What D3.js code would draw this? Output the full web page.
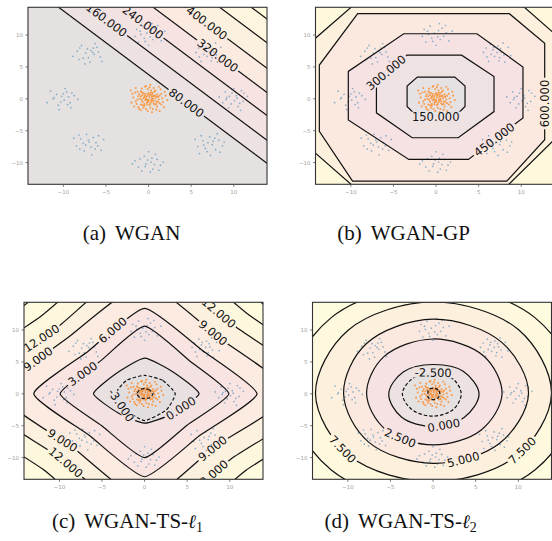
<!DOCTYPE html>
<html>
<head>
<meta charset="utf-8">
<script src="https://d3js.org/d3.v7.min.js"></script>
<style>
  body { margin: 0; background: #fff; }
  svg { display: block; }
  .tick-label { font-family: "DejaVu Sans", sans-serif; font-size: 5.5px; fill: #a0a0a0; }
  .clabel { font-family: "DejaVu Sans", sans-serif; font-size: 11.5px; fill: #111; }
  .caption { font-family: "Liberation Serif", "Times New Roman", serif; font-size: 21px; fill: #111; }
</style>
</head>
<body>
<div id="chart"></div>
<script>
// ---- shared axes ----
var xTicks = [-10, -5, 0, 5, 10];
var yTicks = [-10, -5, 0, 5, 10];
var xDomain = [-14.15, 13.9];
var yDomain = [-13.4, 14.35];

var captionTags = ["(a)", "(b)", "(c)", "(d)"];
var captionNames = ["WGAN", "WGAN-GP", "WGAN-TS-", "WGAN-TS-"];
var captionNorms = ["", "", "1", "2"];

// ---- samples: 8 real modes + generated cloud at the origin ----
var modeCenters = [[10, 0], [7.07, 7.07], [0, 10], [-7.07, 7.07], [-10, 0], [-7.07, -7.07], [0, -10], [7.07, -7.07]];
var modeSpread = [
  [[0.3,0.5],[-0.8,0.2],[1.1,-0.4],[0.5,-1.2],[-0.2,0.9],[-1.3,-0.6],[0.9,1.3],[0.1,-0.3],[-0.6,-1.4],[1.6,0.4],[-1.0,1.1],[0.4,0.1],[-0.3,-0.8],[0.7,-0.7],[-1.7,0.3],[1.2,0.9],[0.0,1.6],[-0.5,0.4],[0.8,-1.8],[-0.9,-0.1]],
  [[-0.4,0.6],[0.9,-0.2],[0.2,1.2],[-1.1,-0.5],[0.6,0.3],[1.4,1.0],[-0.7,1.5],[0.3,-1.1],[-0.2,-0.4],[1.0,-1.3],[-1.5,0.2],[0.5,0.8],[-0.9,-1.2],[0.1,0.2],[1.7,-0.3],[-0.3,1.0],[0.8,1.7],[-1.2,0.9],[0.4,-0.6],[-0.6,-0.1]],
  [[0.2,-0.3],[-1.0,0.6],[1.2,0.4],[-0.4,-1.0],[0.7,1.1],[-1.6,-0.2],[0.3,0.7],[1.5,-0.9],[-0.7,1.4],[0.0,-1.6],[0.9,-0.2],[-1.2,-1.1],[1.9,0.6],[-0.2,0.3],[0.5,-0.7],[-0.9,0.1],[1.1,1.5],[-0.5,-0.5],[0.4,1.8],[-1.4,0.9]],
  [[0.5,0.2],[-0.6,-0.7],[1.0,1.0],[-1.3,0.4],[0.2,-1.3],[-0.1,0.8],[1.4,-0.5],[-0.8,1.3],[0.7,-0.1],[-1.8,-0.4],[0.3,0.5],[-0.4,-1.6],[1.2,0.3],[-1.0,0.9],[0.0,-0.6],[0.8,1.6],[-0.3,0.1],[1.6,-1.2],[-1.1,-0.9],[0.6,0.9]],
  [[-0.2,0.4],[0.8,-0.6],[-1.1,0.2],[0.4,1.1],[-0.6,-1.0],[1.3,0.5],[-1.5,1.2],[0.1,-0.2],[0.9,-1.4],[-0.8,0.7],[1.7,-0.1],[-0.3,-0.5],[0.6,0.3],[-1.9,-0.6],[0.2,1.6],[1.0,0.9],[-0.5,-1.7],[-1.2,0.0],[0.5,-0.9],[0.0,0.8]],
  [[0.1,0.3],[-0.9,0.8],[1.1,-0.3],[-0.5,-1.1],[0.6,1.0],[-1.4,-0.3],[0.9,0.2],[-0.2,1.5],[1.5,-1.0],[-1.0,-0.8],[0.3,-0.5],[-0.6,0.1],[1.8,0.7],[-1.7,0.9],[0.4,-1.7],[-0.3,-0.2],[0.8,-0.8],[1.2,1.3],[-1.1,1.4],[0.0,0.6]],
  [[-0.3,-0.2],[1.0,0.5],[-1.2,-0.7],[0.5,-1.0],[-0.5,1.0],[1.4,-0.4],[-0.1,0.4],[0.8,1.3],[-1.6,0.3],[0.2,-1.5],[-0.8,-1.3],[1.7,0.1],[0.4,0.7],[-1.0,0.6],[1.2,-1.2],[-0.4,-0.6],[0.0,1.7],[-1.9,-0.2],[0.7,-0.3],[0.3,0.1]],
  [[0.4,-0.1],[-0.7,0.5],[1.2,0.6],[-0.2,-1.2],[0.8,-0.9],[-1.3,-0.4],[0.1,1.1],[1.6,-0.3],[-0.9,1.3],[0.5,0.4],[-0.4,-0.7],[1.0,1.6],[-1.6,0.7],[0.2,-1.8],[1.3,-1.3],[-0.1,0.2],[-1.1,-1.5],[0.7,0.9],[1.8,0.3],[-0.6,-0.2]]
];
var fakeSamples = [
  [0.1,0.2],[-0.4,0.5],[0.6,-0.3],[-0.2,-0.6],[0.9,0.4],[-0.8,-0.2],[0.3,1.0],[-0.5,-1.1],[1.2,-0.1],[-1.1,0.7],
  [0.0,-0.2],[0.4,0.6],[-0.3,0.1],[0.7,-0.9],[-0.9,1.2],[1.5,0.8],[-1.4,-0.8],[0.2,-1.4],[-0.1,1.5],[1.0,-1.2],
  [-0.6,0.9],[0.8,1.3],[-1.2,-1.3],[1.7,-0.5],[-1.8,0.2],[0.5,0.0],[-0.7,-0.5],[0.2,0.7],[-0.2,-0.9],[1.1,0.3],
  [-0.4,1.9],[0.9,-1.7],[-1.6,1.0],[1.9,1.1],[-0.9,-1.8],[0.3,-0.5],[-0.5,0.3],[0.6,1.7],[-1.0,0.0],[1.3,-0.7],
  [0.0,0.9],[-0.3,-1.6],[1.6,0.1],[-2.0,-0.6],[0.4,-2.1],[-0.8,1.6],[2.2,-0.2],[-1.3,-0.1],[0.7,0.5],[-0.1,-0.3],
  [0.2,2.2],[1.4,1.5],[-1.5,1.7],[0.9,-0.4],[-0.6,-1.4],[1.2,1.9],[-2.1,1.3],[0.1,-1.0],[-0.2,0.4],[0.5,-1.6],
  [1.8,-1.3],[-1.1,-1.6],[0.3,1.3],[-0.7,0.6],[1.0,0.7],[-0.4,-0.2],[0.6,-0.7],[-1.7,-1.2],[2.0,0.5],[-0.9,0.4],
  [0.1,1.8],[1.3,-1.9],[-0.3,2.0],[-1.9,0.8],[0.8,0.1],[-0.5,-0.8],[1.5,-0.9],[-1.3,1.1],[0.4,0.3],[-0.1,-1.9],
  [0.3,-0.1],[-0.6,0.1],[0.1,0.5],[-0.2,-0.1],[0.5,0.9],[-0.9,-0.9],[1.1,-0.5],[-1.2,0.4],[0.7,1.1],[-0.4,0.8],
  [0.2,-0.8],[-0.7,-1.0],[1.3,0.5],[-1.5,-0.4],[0.6,0.4],[-0.1,0.7],[0.9,-0.8],[-0.8,1.0],[0.0,-0.5],[0.4,-0.3]
];

// ---- (a) WGAN: straight level lines x + y = const ----
var wganLevels = [80, 160, 240, 320, 400, 480, 560];
var wganLineSums = [3.8, 7.4, 11.3, 14.9, 18.7, 22.7, 26.4];
var wganLabelSpots = [[80, 4.5, -0.4], [160, -4.9, 12.3], [240, -0.6, 12.1], [320, 8.2, 6.9], [400, 6.9, 12.1]];

// ---- (b) WGAN-GP: octagonal level sets ----
var gpLevels = [150, 300, 450, 600, 750];
var gpOctagons = [
  [[-2.2,3.4],[2.2,3.4],[3.4,2.0],[3.4,-1.2],[2.2,-2.8],[-2.2,-2.8],[-3.4,-1.2],[-3.4,2.0]],
  [[-3.4,6.85],[3.0,6.85],[6.8,3.5],[6.8,-2.0],[2.6,-6.1],[-2.8,-6.1],[-7.0,-2.2],[-7.0,2.8]],
  [[-3.8,10.2],[4.8,10.2],[10.2,5.0],[10.2,-3.0],[3.8,-9.5],[-3.2,-9.5],[-10.3,-3.3],[-10.3,4.3]],
  [[-9.2,13.35],[8.6,13.35],[12.75,8.7],[12.75,-6.4],[8.3,-12.9],[-9.8,-12.9],[-13.7,-5.1],[-13.7,5.3]],
  [[-7.7,17],[8.1,17],[17,6.6],[17,-2.3],[5.8,-17],[-6.9,-17],[-17,-5.2],[-17,6.2]]
];
var gpLabelSpots = [[150, 0, -2.9], [300, -5.6, 3.7], [450, 6.6, -6.0], [600, 12.9, -0.7]];

// ---- (c) WGAN-TS-l1: radius of each level along E, NE, N, NW, W, SW, S, SE ----
var l1Levels = [-6, -3, 0, 3, 6, 9, 12, 15, 18];
var l1Radii = [
  [1.0, 0.85, 0.85, 0.85, 0.9, 0.8, 0.75, 0.85],
  [3.6, 3.0, 2.9, 3.0, 3.4, 3.4, 4.2, 3.6],
  [6.4, 4.8, 5.6, 4.6, 6.0, 4.3, 4.6, 4.5],
  [9.9, 7.4, 10.6, 7.3, 9.9, 7.1, 10.0, 7.0],
  [13.2, 9.6, 13.4, 9.4, 13.0, 9.2, 13.0, 9.2],
  [17.2, 12.4, 17.4, 12.6, 17.0, 11.9, 16.8, 11.7],
  [21.0, 15.0, 21.0, 14.6, 20.5, 14.1, 20.3, 14.4],
  [24.5, 17.4, 24.5, 17.2, 24.2, 16.8, 24.0, 16.9],
  [28.0, 19.8, 28.0, 19.8, 28.0, 19.5, 28.0, 19.5]
];
var l1LabelSpots = [[-3, -2.2, -1.4], [0, 4.1, -1.9], [3, -7.2, 2.9], [6, -3.5, 9.5], [9, -12.6, 5.6], [9, -9.5, -7.1],
  [9, 7.9, -8.4], [9, 8.5, 10.2], [12, -11.8, 8.2], [12, -9.1, -10.5], [12, 8.7, 12.7], [12, 7.2, -11.8]];

// ---- (d) WGAN-TS-l2 ----
var l2Levels = [-5, -2.5, 0, 2.5, 5, 7.5, 10];
var l2Radii = [
  [0.8, 0.85, 0.9, 0.8, 0.6, 0.8, 0.9, 0.85],
  [3.3, 3.3, 3.3, 3.4, 3.6, 3.5, 3.5, 3.4],
  [5.4, 5.0, 4.6, 4.9, 5.2, 5.2, 5.1, 5.2],
  [8.1, 8.4, 8.6, 8.2, 7.8, 7.9, 8.0, 8.0],
  [11.2, 11.4, 11.7, 11.1, 10.5, 10.7, 10.9, 11.0],
  [13.9, 14.2, 14.4, 14.1, 13.8, 13.8, 13.75, 13.8],
  [17.0, 16.9, 17.0, 16.9, 17.0, 16.9, 17.0, 16.9]
];
var l2LabelSpots = [[-2.5, 0, 4.1], [0, 1.2, -4.6], [2.5, -3.9, -7.2], [5, 3.5, -9.8], [7.5, -10.7, -8.8], [7.5, 10.5, -9.0]];

// ---- layout ----
var W = 239, H = 177;
var boxes = [[28, 7.3], [315.5, 7.3], [24, 302.3], [312.5, 302.3]];
var captionSpots = [[131.5, 240], [403.5, 240], [127.5, 528], [400.7, 528]];

var svg = d3.select("#chart").append("svg").attr("width", 552).attr("height", 541);
var defs = svg.append("defs");

var x = d3.scaleLinear().domain(xDomain).range([0, W]);
var y = d3.scaleLinear().domain(yDomain).range([H, 0]);

var compass = [0, 45, 90, 135, 180, 225, 270, 315];
function ring(radii) {
  return radii.map(function(r, i) {
    var a = compass[i] * Math.PI / 180;
    return [r * Math.cos(a), r * Math.sin(a)];
  });
}

var panels = [
  { levels: wganLevels, up: true, curve: d3.curveLinear, spots: wganLabelSpots,
    rings: wganLineSums.map(function(s) {
      return { fill: [[s - 30, 30], [30, 30], [30, s - 30]], stroke: [[s - 30, 30], [30, s - 30]] };
    }),
    bands: ["#e5e1e0", "#ece2e2", "#f3e2e2", "#f7e3e1", "#faeae0", "#fcf0de", "#fdf5dd", "#fefadd"] },
  { levels: gpLevels, up: false, curve: d3.curveLinearClosed, spots: gpLabelSpots,
    rings: gpOctagons.map(function(p) { return { fill: p, stroke: p }; }),
    bands: ["#e6e2e4", "#eee2e3", "#f6e2e2", "#fbe9e0", "#fdf1dd", "#fef9dd"] },
  { levels: l1Levels, up: false, curve: d3.curveCardinalClosed.tension(0.5), spots: l1LabelSpots,
    rings: l1Radii.map(function(r) { var p = ring(r); return { fill: p, stroke: p }; }),
    bands: ["#d9d4d6", "#e2dedf", "#e9e1e1", "#f4e1e2", "#f9e4e1", "#fbebe0", "#fcf1de", "#fdf7dd", "#fefbdf", "#fffde0"] },
  { levels: l2Levels, up: false, curve: d3.curveCatmullRomClosed, spots: l2LabelSpots,
    rings: l2Radii.map(function(r) { var p = ring(r); return { fill: p, stroke: p }; }),
    bands: ["#dcd7d9", "#e5e1e1", "#ede2e2", "#f6e2e2", "#fbe9e0", "#fdf1dd", "#fef8de", "#fefcdf"] }
];

var fmt = function(v) { return d3.format(".3f")(v).replace("\u2212", "-"); };

function nearestOnPath(node, px, py) {
  var L = node.getTotalLength(), best = null;
  for (var s = 0; s <= L; s += 1) {
    var p = node.getPointAtLength(s);
    var d = (p.x - px) * (p.x - px) + (p.y - py) * (p.y - py);
    if (!best || d < best.d) best = { s: s, d: d, p: p };
  }
  var a = node.getPointAtLength(Math.max(0, best.s - 4));
  var b = node.getPointAtLength(Math.min(L, best.s + 4));
  var ang = Math.atan2(b.y - a.y, b.x - a.x) * 180 / Math.PI;
  // keep text upright; vertical labels read bottom-to-top
  if (ang >= 89) ang -= 180;
  if (ang < -91) ang += 180;
  return { x: best.p.x, y: best.p.y, ang: ang };
}

panels.forEach(function(cfg, i) {
  var g = svg.append("g").attr("transform", "translate(" + boxes[i][0] + "," + boxes[i][1] + ")");
  defs.append("clipPath").attr("id", "clip" + i).append("rect").attr("width", W).attr("height", H);

  var body = g.append("g").attr("clip-path", "url(#clip" + i + ")");
  var line = d3.line().x(function(d) { return x(d[0]); }).y(function(d) { return y(d[1]); });
  var n = cfg.levels.length;

  // filled bands, painted from the outside in
  body.append("rect").attr("width", W).attr("height", H)
    .attr("fill", cfg.up ? cfg.bands[0] : cfg.bands[n]);
  var order = d3.range(n);
  if (!cfg.up) order.reverse();
  order.forEach(function(k) {
    body.append("path")
      .attr("d", line.curve(cfg.curve)(cfg.rings[k].fill))
      .attr("fill", cfg.up ? cfg.bands[k + 1] : cfg.bands[k]);
  });

  // samples
  modeCenters.forEach(function(c, m) {
    body.append("g").selectAll("circle").data(modeSpread[m]).join("circle")
      .attr("cx", function(d) { return x(c[0] + d[0]); })
      .attr("cy", function(d) { return y(c[1] + d[1]); })
      .attr("r", 0.85).attr("fill", "#1f77b4").attr("opacity", 0.5);
  });
  body.append("g").selectAll("circle").data(fakeSamples).join("circle")
    .attr("cx", function(d) { return x(d[0]); })
    .attr("cy", function(d) { return y(d[1]); })
    .attr("r", 1.05).attr("fill", "#ff7f0e").attr("opacity", 0.7);

  // contour lines (masked under labels)
  var maskId = "mask" + i;
  var mask = defs.append("mask").attr("id", maskId).attr("maskUnits", "userSpaceOnUse")
    .attr("x", -50).attr("y", -50).attr("width", W + 100).attr("height", H + 100);
  mask.append("rect").attr("x", -50).attr("y", -50).attr("width", W + 100).attr("height", H + 100).attr("fill", "#fff");

  var lines = body.append("g").attr("mask", "url(#" + maskId + ")");
  var strokeCurve = cfg.up ? d3.curveLinear : cfg.curve;
  var nodes = cfg.rings.map(function(r, k) {
    return lines.append("path")
      .attr("d", line.curve(strokeCurve)(r.stroke))
      .attr("fill", "none").attr("stroke", "#111").attr("stroke-width", 1.2)
      .attr("stroke-dasharray", cfg.levels[k] < 0 ? "3.5,2" : null)
      .node();
  });

  // inline level labels
  var labels = body.append("g");
  cfg.spots.forEach(function(s) {
    var k = cfg.levels.indexOf(s[0]);
    var at = nearestOnPath(nodes[k], x(s[1]), y(s[2]));
    var t = labels.append("text").attr("class", "clabel")
      .attr("text-anchor", "middle").attr("dominant-baseline", "central")
      .attr("transform", "translate(" + at.x + "," + at.y + ") rotate(" + at.ang + ")")
      .text(fmt(s[0]));
    var w = t.node().getComputedTextLength() + 4;
    mask.append("rect").attr("x", -w / 2).attr("y", -5).attr("width", w).attr("height", 10)
      .attr("transform", "translate(" + at.x + "," + at.y + ") rotate(" + at.ang + ")")
      .attr("fill", "#000");
  });

  // frame and ticks
  g.append("rect").attr("width", W).attr("height", H)
    .attr("fill", "none").attr("stroke", "#333").attr("stroke-width", 1.1);
  xTicks.forEach(function(t) {
    g.append("line").attr("x1", x(t)).attr("x2", x(t)).attr("y1", H).attr("y2", H + 2.5)
      .attr("stroke", "#555").attr("stroke-width", 0.8);
    g.append("text").attr("class", "tick-label").attr("x", x(t)).attr("y", H + 10)
      .attr("text-anchor", "middle").text(d3.format("")(t));
  });
  yTicks.forEach(function(t) {
    g.append("line").attr("x1", 0).attr("x2", -2.5).attr("y1", y(t)).attr("y2", y(t))
      .attr("stroke", "#555").attr("stroke-width", 0.8);
    g.append("text").attr("class", "tick-label").attr("x", -5).attr("y", y(t) + 2)
      .attr("text-anchor", "end").text(d3.format("")(t));
  });

  // caption
  var cap = svg.append("text").attr("class", "caption")
    .attr("font-family", "'Liberation Serif', 'Times New Roman', serif")
    .attr("x", captionSpots[i][0]).attr("y", captionSpots[i][1]).attr("text-anchor", "middle");
  cap.append("tspan").text(captionTags[i]);
  cap.append("tspan").attr("dx", 9).text(captionNames[i]);
  if (captionNorms[i]) {
    cap.append("tspan").attr("font-style", "italic").attr("font-family", "'DejaVu Serif', serif").attr("font-size", 19).text("\u2113");
    cap.append("tspan").attr("dy", 4).attr("font-size", 14).text(captionNorms[i]);
  }
});
</script>
</body>
</html>
